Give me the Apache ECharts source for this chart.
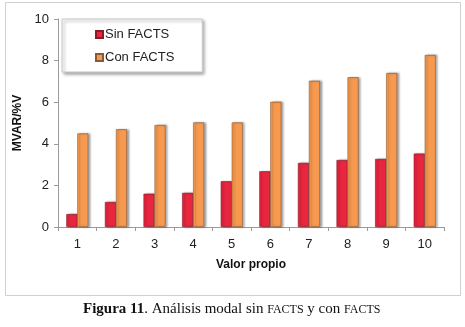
<!DOCTYPE html>
<html>
<head>
<meta charset="utf-8">
<script src="https://cdn.jsdelivr.net/npm/echarts@6/dist/echarts.min.js"></script>
<style>
  html, body { margin: 0; padding: 0; background: #fff; }
  #chart { width: 465px; height: 327px; }
</style>
</head>
<body>
<div id="chart"></div>
<script>
  // valores
  var categorias = ['1', '2', '3', '4', '5', '6', '7', '8', '9', '10']
  var sinFacts = [0.62, 1.2, 1.6, 1.64, 2.2, 2.68, 3.08, 3.22, 3.27, 3.53]
  var conFacts = [4.5, 4.7, 4.9, 5.03, 5.03, 6.02, 7.03, 7.2, 7.4, 8.27]
  var yTicks = [0, 2, 4, 6, 8, 10]

  var chart = echarts.init(document.getElementById('chart'))

  chart.setOption({
    backgroundColor: '#fff',
    animation: false,
    textStyle: { fontFamily: 'Liberation Sans, Arial, sans-serif' },
    legend: {
      left: 62,
      top: 19,
      orient: 'vertical',
      padding: [9, 28, 8, 33],
      itemGap: 10,
      itemWidth: 7,
      itemHeight: 7,
      icon: 'rect',
      backgroundColor: '#fff',
      borderColor: '#c8c8c8',
      borderWidth: 1,
      shadowColor: 'rgba(0,0,0,0.35)',
      shadowBlur: 3,
      shadowOffsetX: 2,
      shadowOffsetY: 2,
      textStyle: { fontSize: 13, color: '#222', padding: [0, 0, 0, -3] },
      data: ['Sin FACTS', 'Con FACTS']
    },
    grid: {
      left: 58,
      right: 21,
      top: 19,
      bottom: 100
    },
    xAxis: {
      type: 'category',
      data: categorias,
      name: 'Valor propio',
      nameLocation: 'middle',
      nameGap: 32,
      nameTextStyle: { fontSize: 12, fontWeight: 'bold', color: '#111' },
      axisLine: { lineStyle: { color: '#9a9a9a' } },
      axisTick: { show: true, length: 4, lineStyle: { color: '#9a9a9a' } },
      axisLabel: { fontSize: 13, color: '#222', margin: 11 }
    },
    yAxis: {
      type: 'value',
      min: yTicks[0],
      max: yTicks[yTicks.length - 1],
      interval: 2,
      name: 'MVAR/%V',
      nameLocation: 'middle',
      nameGap: 34,
      nameTextStyle: { fontSize: 12, fontWeight: 'bold', color: '#111' },
      axisLine: { show: true, lineStyle: { color: '#9a9a9a' } },
      axisTick: { show: true, length: 4, lineStyle: { color: '#9a9a9a' } },
      axisLabel: { fontSize: 13, color: '#222', margin: 9 },
      splitLine: { show: false }
    },
    series: [
      {
        name: 'Sin FACTS',
        type: 'bar',
        data: sinFacts,
        barWidth: 11,
        barGap: '0%',
        itemStyle: {
          color: '#e8263f',
          borderColor: '#8a1a26',
          borderWidth: 0.6,
          shadowColor: 'rgba(0,0,0,0.35)',
          shadowBlur: 2,
          shadowOffsetX: 2,
          shadowOffsetY: 0
        }
      },
      {
        name: 'Con FACTS',
        type: 'bar',
        data: conFacts,
        barWidth: 11,
        itemStyle: {
          color: '#f79a4f',
          borderColor: '#8b5a33',
          borderWidth: 0.6,
          shadowColor: 'rgba(0,0,0,0.35)',
          shadowBlur: 2,
          shadowOffsetX: 2,
          shadowOffsetY: 0
        }
      }
    ],
    graphic: [
      {
        type: 'rect',
        shape: { x: 5.5, y: 2.5, width: 455, height: 293 },
        style: { fill: 'none', stroke: '#d0d0d0', lineWidth: 1 },
        silent: true,
        z: -1
      },
      {
        type: 'text',
        left: 83,
        top: 302,
        style: {
          text: '{b|Figura 11}. Análisis modal sin {s|FACTS} y con {s|FACTS}',
          fill: '#111',
          rich: {
            b: { fontWeight: 'bold', fontSize: 15, fontFamily: 'Liberation Serif' },
            s: { fontSize: 12, fontFamily: 'Liberation Serif' }
          },
          fontFamily: 'Liberation Serif',
          fontSize: 15
        }
      }
    ]
  })
</script>
</body>
</html>
